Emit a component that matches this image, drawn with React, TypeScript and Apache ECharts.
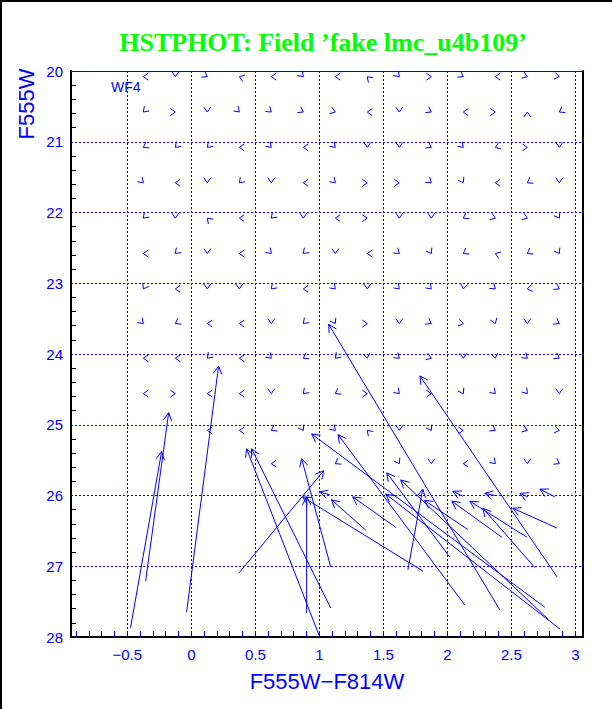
import React, { useEffect, useRef } from "react";
import * as echarts from "echarts";

const BLUE = "#0000ff";

// Grid of small displacement arrows (head positions)
const colX = [-0.375, -0.125, 0.125, 0.375, 0.625, 0.875, 1.125, 1.375, 1.625, 1.875, 2.125, 2.375, 2.625, 2.875];
const rowY = [20.08, 20.58, 21.08, 21.58, 22.08, 22.58, 23.08, 23.57, 24.06, 24.56, 25.08, 25.55];
// head direction (screen degrees, 0 = right, 90 = down), null = no small arrow
const smallDirs: (number | null)[][] = [
  [180, 90, 30, 200, 180, 45, 180, 225, 45, 0, 30, 180, 20, 10],
  [135, 0, 90, 45, 40, 30, 20, 180, 90, 30, 180, 0, 270, 150],
  [150, 135, 135, 180, 45, 180, 45, 90, 90, 30, 45, 160, 0, 90],
  [45, 180, 90, 135, 90, 180, 45, 0, 0, 40, 60, 180, 150, 90],
  [135, 90, 225, 180, 135, 90, 180, 0, 90, 90, 150, 20, 20, 60],
  [180, 135, 90, 180, 45, 135, 90, 180, 40, 60, 150, 200, 150, 60],
  [120, 180, 90, 90, 135, 180, 45, 90, 45, 45, 100, 40, 170, 30],
  [45, 150, 180, 180, 90, 135, 60, 0, 90, 30, 10, 70, 90, 30],
  [180, 180, 135, 180, 45, 150, 135, 80, 40, 20, 90, 80, 40, 30],
  [180, 0, 180, 180, 90, 135, 150, 0, 45, 0, 60, 45, 50, 90],
  [null, null, 180, 180, 150, 60, 45, 225, 90, 60, 0, 30, 20, 10],
  [null, null, null, null, 180, null, 150, null, 60, 90, 180, 45, 90, 30],
];

// Long arrows: tail -> head (data units)
const tailX = [-0.475, -0.357, -0.037, 1.003, 1.089, 1.089, 0.901, 0.370, 1.81, 2.762, 2.411, 2.857, 1.692, 2.137, 1.363, 1.597, 2.121, 2.371, 2.63, 2.84, 2.786, 2.019, 2.88, 2.16, 2.426, 2.622, 2.684, 2.856, 1.081];
const tailY = [27.87, 27.21, 27.65, 28.0, 27.59, 27.01, 27.66, 27.10, 27.07, 27.58, 27.62, 27.15, 27.05, 27.55, 26.49, 26.45, 26.01, 26.0, 26.02, 26.02, 27.746, 26.87, 27.887, 26.48, 26.59, 26.59, 27.02, 26.46, 25.99];
const headX = [-0.232, -0.177, 0.213, 0.432, 0.471, 0.862, 0.901, 1.034, 0.87, 0.94, 1.073, 1.786, 1.808, 1.146, 1.095, 1.261, 2.043, 2.293, 2.567, 2.723, 1.636, 1.527, 1.519, 1.822, 2.035, 2.176, 2.278, 2.512, 1.003];
const headY = [25.38, 24.83, 24.17, 25.34, 25.34, 25.48, 26.02, 25.65, 26.02, 25.13, 23.58, 24.31, 25.91, 25.14, 26.06, 26.02, 25.94, 25.97, 25.97, 25.91, 25.78, 25.68, 25.98, 26.07, 26.08, 26.08, 26.18, 26.18, 25.95];

const xLabelValues = [-0.5, 0, 0.5, 1, 1.5, 2, 2.5, 3];
const yGridValues = [21, 22, 23, 24, 25, 26, 27];

export default function App() {
  const ref = useRef<HTMLDivElement>(null);
  useEffect(() => {
    if (!ref.current) return;
    const chart = echarts.init(ref.current, null, { renderer: "svg" });

    const xTicks: number[] = [];
    for (let i = -9; i <= 30; i++) xTicks.push(i / 10);

    const small: number[][] = [];
    smallDirs.forEach((row, r) =>
      row.forEach((d, c) => {
        if (d !== null) small.push([colX[c], rowY[r], d]);
      })
    );
    const longs = tailX.map((_, i) => [tailX[i], tailY[i], headX[i], headY[i]]);

    const fmtX = (v: number) => (v < 0 ? "\u2212" + String(-v) : String(v));

    chart.setOption({
      animation: false,
      backgroundColor: "#ffffff",
      title: {
        text: "HSTPHOT: Field \u2019fake lmc_u4b109\u2019",
        left: 318,
        textAlign: "center",
        top: 24,
        textStyle: { color: "#00ff00", fontFamily: "Liberation Serif", fontWeight: "bold", fontSize: 26 },
      },
      grid: { left: 71, top: 71, right: 29, bottom: 72, containLabel: false },
      xAxis: [
        {
          type: "value",
          min: -0.94,
          max: 3.06,
          name: "F555W\u2212F814W",
          nameLocation: "middle",
          nameGap: 33,
          nameTextStyle: { color: BLUE, fontFamily: "Liberation Sans", fontSize: 22 },
          axisLine: { show: true, onZero: false, lineStyle: { color: "#000000", width: 2 } },
          axisTick: { show: true, inside: true, length: 6, customValues: xTicks, lineStyle: { color: BLUE } },
          axisLabel: {
            show: true,
            customValues: xLabelValues,
            formatter: fmtX,
            color: BLUE,
            fontFamily: "Liberation Sans",
            fontSize: 15,
            margin: 10,
          },
          splitLine: { show: false },
        },
        {
          type: "value",
          position: "top",
          min: -0.94,
          max: 3.06,
          axisLine: { show: true, onZero: false, lineStyle: { color: BLUE, width: 1 } },
          axisTick: { show: false },
          axisLabel: { show: false },
          splitLine: { show: false },
        },
      ],
      yAxis: [
        {
          type: "value",
          inverse: true,
          min: 20,
          max: 28,
          interval: 1,
          axisLine: { show: true, onZero: false, lineStyle: { color: "#000000", width: 2 } },
          axisTick: { show: false, inside: true },
          minorTick: { show: true, splitNumber: 5, length: 5, lineStyle: { color: "#000000" } },
          axisLabel: { color: BLUE, fontFamily: "Liberation Sans", fontSize: 15, margin: 8 },
          splitLine: { show: false },
        },
        {
          type: "value",
          position: "right",
          inverse: true,
          min: 20,
          max: 28,
          axisLine: { show: true, onZero: false, lineStyle: { color: "#000000", width: 2 } },
          axisTick: { show: false },
          axisLabel: { show: false },
          splitLine: { show: false },
        },
      ],
      graphic: [
        { type: "line", shape: { x1: 1, y1: 0, x2: 1, y2: 709 }, style: { stroke: "#000", lineWidth: 2 } },
        { type: "line", shape: { x1: 0, y1: 1, x2: 612, y2: 1 }, style: { stroke: "#000", lineWidth: 2 } },
        { type: "text", left: 111, top: 80, style: { text: "WF4", fill: BLUE, font: "14px 'Liberation Sans'" } },
        {
          type: "text",
          x: 26,
          y: 104,
          rotation: Math.PI / 2,
          style: { text: "F555W", fill: BLUE, font: "22px 'Liberation Sans'", align: "center", verticalAlign: "middle" },
        },
      ],
      series: [
        {
          type: "line",
          data: [],
          silent: true,
          markLine: {
            silent: true,
            symbol: "none",
            label: { show: false },
            lineStyle: { color: BLUE, type: [2, 2], width: 1 },
            data: [...xLabelValues.map((v) => ({ xAxis: v })), ...yGridValues.map((v) => ({ yAxis: v }))],
          },
        },
        {
          type: "custom",
          silent: true,
          data: small,
          renderItem: (params: any, api: any) => {
            const p = api.coord([api.value(0), api.value(1)]);
            const ang = (api.value(2) * Math.PI) / 180;
            const L = 6;
            const a = (35 * Math.PI) / 180;
            const p1 = [p[0] - L * Math.cos(ang - a), p[1] - L * Math.sin(ang - a)];
            const p2 = [p[0] - L * Math.cos(ang + a), p[1] - L * Math.sin(ang + a)];
            return { type: "polyline", shape: { points: [p1, p, p2] }, style: { stroke: BLUE, fill: "none", lineWidth: 1 } };
          },
        },
        {
          type: "custom",
          silent: true,
          data: longs,
          renderItem: (params: any, api: any) => {
            const t = api.coord([api.value(0), api.value(1)]);
            const h = api.coord([api.value(2), api.value(3)]);
            const ang = Math.atan2(h[1] - t[1], h[0] - t[0]);
            const L = 9;
            const a = (28 * Math.PI) / 180;
            const p1 = [h[0] - L * Math.cos(ang - a), h[1] - L * Math.sin(ang - a)];
            const p2 = [h[0] - L * Math.cos(ang + a), h[1] - L * Math.sin(ang + a)];
            return {
              type: "group",
              children: [
                { type: "line", shape: { x1: t[0], y1: t[1], x2: h[0], y2: h[1] }, style: { stroke: BLUE, lineWidth: 1 } },
                { type: "polyline", shape: { points: [p1, h, p2] }, style: { stroke: BLUE, fill: "none", lineWidth: 1 } },
              ],
            };
          },
        },
      ],
    });
    return () => chart.dispose();
  }, []);
  return <div ref={ref} style={{ position: "fixed", left: 0, top: 0, width: 612, height: 709, background: "#fff" }} />;
}
